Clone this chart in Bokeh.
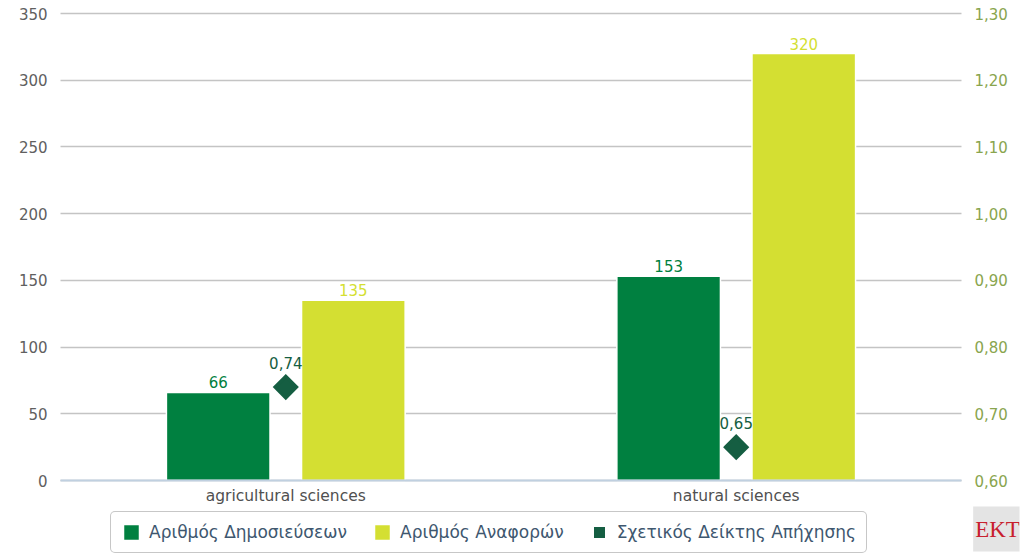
import numpy as np
from bokeh.plotting import figure
from bokeh.models import (ColumnDataSource, Range1d, LinearAxis, FactorRange, FixedTicker,
                          CustomJSTickFormatter, Legend, LegendItem, Label)
from bokeh.transform import dodge
from bokeh.core.properties import value
from bokeh.embed import file_html
from bokeh.resources import INLINE

# ---- data ----
categories = ["agricultural sciences", "natural sciences"]
publications = [66, 153]
citations = [135, 320]
relative_citation_index = [0.74, 0.65]
left_ticks = [0, 50, 100, 150, 200, 250, 300, 350]
right_ticks = [0.60, 0.70, 0.80, 0.90, 1.00, 1.10, 1.20, 1.30]
series_names = ["Αριθμός Δημοσιεύσεων", "Αριθμός Αναφορών", "Σχετικός Δείκτης Απήχησης"]
logo_text = "EKT"

FONT = "DejaVu Sans"
GREEN = "#008040"
YELLOW = "#d4df32"
DARK = "#155e42"

src = ColumnDataSource(dict(
    cat=categories,
    pub=publications,
    cit=citations,
    rci=relative_citation_index,
    pub_lbl=[str(v) for v in publications],
    cit_lbl=[str(v) for v in citations],
    rci_lbl=[f"{v:.2f}".replace(".", ",") for v in relative_citation_index],
))

# The plot frame covers nearly the whole canvas so the legend and logo (inside the
# frame) are not clipped; the axes are pinned to the data area with fixed_location.
L_MAX, R_MIN, R_MAX = 350, 0.6, 1.3
px_per_unit = 467 / L_MAX            # 0 -> y=480, 350 -> y=13
below = 76 / px_per_unit             # frame bottom at y=556
above = 9 / px_per_unit              # frame top at y=4
r_scale = (R_MAX - R_MIN) / L_MAX

x_range = FactorRange(*categories, range_padding=0.1289, range_padding_units="absolute")
p = figure(width=1024, height=560, x_range=x_range,
           y_range=Range1d(-below, L_MAX + above), output_backend="svg",
           toolbar_location=None, min_border_left=2, min_border_right=5,
           min_border_top=4, min_border_bottom=4)
p.extra_y_ranges = {"rci": Range1d(R_MIN - below * r_scale, R_MAX + above * r_scale)}
p.outline_line_color = None

bar_style = dict(width=0.23, line_color="white", line_width=1.5)
r_pub = p.vbar(x=dodge("cat", -0.15, range=p.x_range), top="pub", source=src,
               fill_color=GREEN, **bar_style)
r_cit = p.vbar(x=dodge("cat", 0.15, range=p.x_range), top="cit", source=src,
               fill_color=YELLOW, **bar_style)
r_rci = p.scatter(x=dodge("cat", 0.0, range=p.x_range), y="rci", y_range_name="rci",
                  source=src, marker="square", angle=np.pi / 4, size=15.5,
                  fill_color=DARK, line_color=DARK, line_width=3, line_join="miter")

lbl_style = dict(text_align="center", text_baseline="bottom",
                 text_font=value(FONT), text_font_size="15px")
p.text(x=dodge("cat", -0.15, range=p.x_range), y="pub", text="pub_lbl", source=src,
       y_offset=-4, text_color=GREEN, **lbl_style)
p.text(x=dodge("cat", 0.15, range=p.x_range), y="cit", text="cit_lbl", source=src,
       y_offset=-4, text_color=YELLOW, **lbl_style)
p.text(x=dodge("cat", 0.0, range=p.x_range), y="rci", text="rci_lbl", source=src,
       y_range_name="rci", y_offset=-18, text_color=DARK, **lbl_style)

# axes
ya = p.yaxis[0]
ya.ticker = FixedTicker(ticks=left_ticks)
ya.fixed_location = 0
ya.axis_line_color = None
ya.major_tick_line_color = None
ya.minor_tick_line_color = None
ya.major_tick_out = 0
ya.major_label_text_color = "#606060"
ya.major_label_text_font = FONT
ya.major_label_text_font_size = "15px"
ya.major_label_standoff = 13

ra = LinearAxis(y_range_name="rci", ticker=FixedTicker(ticks=right_ticks),
                formatter=CustomJSTickFormatter(code="return tick.toFixed(2).replace('.', ',');"))
ra.fixed_location = len(categories)
ra.axis_line_color = None
ra.major_tick_line_color = None
ra.minor_tick_line_color = None
ra.major_tick_out = 0
ra.major_label_text_color = "#89a54e"
ra.major_label_text_font = FONT
ra.major_label_text_font_size = "15px"
ra.major_label_standoff = 13
p.add_layout(ra, "right")

xa = p.xaxis[0]
xa.fixed_location = 0
xa.bounds = (0, len(categories))
xa.axis_line_color = "#c0d0e0"
xa.axis_line_width = 2
xa.major_tick_line_color = None
xa.minor_tick_line_color = None
xa.major_tick_out = 0
xa.major_label_text_color = "#505050"
xa.major_label_text_font = FONT
xa.major_label_text_font_size = "15.5px"
xa.major_label_standoff = 6

p.xgrid.grid_line_color = None
yg = p.ygrid[0]
yg.ticker = FixedTicker(ticks=left_ticks)
if "cross_bounds" in yg.properties():
    yg.cross_bounds = (0, len(categories))
    yg.grid_line_color = "#c4c4c4"
    yg.grid_line_width = 1.5
else:
    yg.grid_line_color = None
    gsrc = ColumnDataSource(dict(y=left_ticks, x0=[0] * len(left_ticks),
                                 x1=[len(categories)] * len(left_ticks)))
    p.segment(x0="x0", x1="x1", y0="y", y1="y", source=gsrc,
              line_color="#c4c4c4", line_width=1.5, level="underlay")

# ---- legend ----
legend = Legend(items=[LegendItem(label=series_names[0], renderers=[r_pub]),
                       LegendItem(label=series_names[1], renderers=[r_cit]),
                       LegendItem(label=series_names[2], renderers=[r_rci])],
                orientation="horizontal", location=(108, 3),
                border_line_color="#909090", border_line_width=1, border_radius=5,
                label_text_font=FONT, label_text_font_size="17px",
                label_text_color="#3e576f",
                glyph_width=20, glyph_height=20, spacing=25, padding=10,
                label_standoff=8, margin=0, background_fill_color="white",
                background_fill_alpha=1)
p.add_layout(legend)

logo = Label(x=995, y=5, x_units="screen", y_units="screen", text=logo_text,
             text_align="center", text_baseline="bottom",
             text_font="Liberation Serif", text_font_size="23px", text_color="#c8202e",
             background_fill_color="#e4e4e4",
             padding=dict(left=2, right=2, top=10, bottom=10))
p.add_layout(logo)

open("out.html", "w").write(file_html(p, INLINE))
